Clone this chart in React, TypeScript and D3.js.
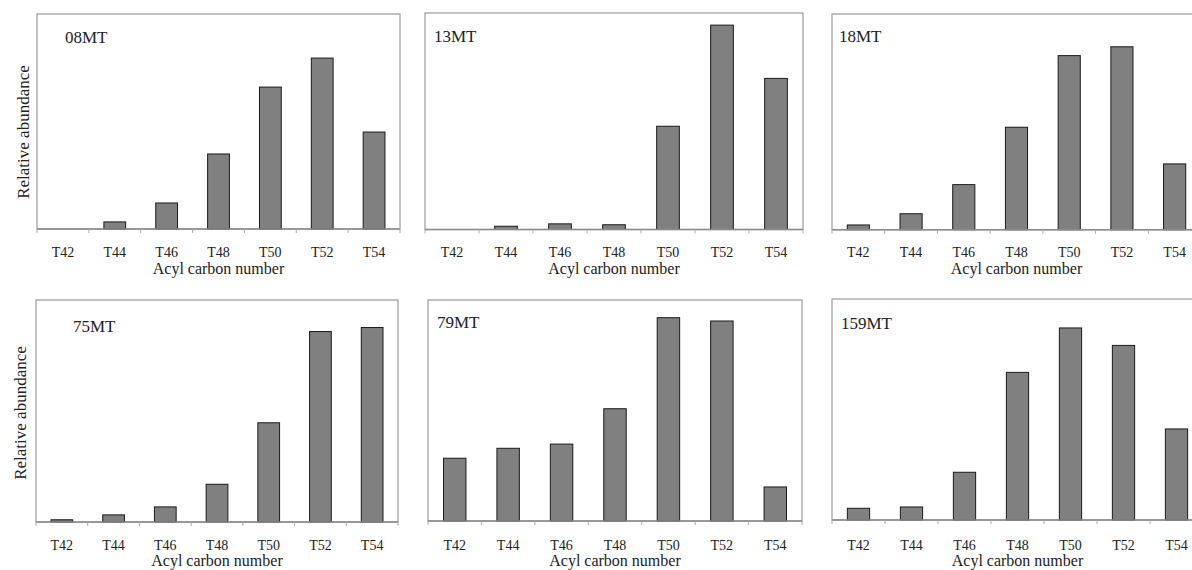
import React from "react";
import * as d3 from "d3";

const categories = ["T42", "T44", "T46", "T48", "T50", "T52", "T54"];
const sampleNames = ["08MT", "13MT", "18MT", "75MT", "79MT", "159MT"];
const values08MT = [0, 3.3, 12.1, 34.9, 66.0, 79.5, 45.1];
const values13MT = [0, 1.5, 2.6, 2.2, 47.7, 94.4, 69.8];
const values18MT = [2.2, 7.4, 20.9, 47.5, 80.7, 84.8, 30.5];
const values75MT = [1.0, 3.2, 6.8, 17.0, 44.7, 85.8, 87.6];
const values79MT = [28.4, 32.9, 34.8, 50.8, 92.0, 90.5, 15.4];
const values159MT = [5.3, 5.9, 21.6, 66.8, 86.9, 79.0, 41.2];
const xTitle = "Acyl carbon number";
const yTitle = "Relative abundance";

const seriesList = [values08MT, values13MT, values18MT, values75MT, values79MT, values159MT];

// layout of panels (pixel boxes)
const panels = [
  { left: 37, right: 400, top: 14, bottom: 229, tx: 65, ty: 43 },
  { left: 425, right: 803, top: 13, bottom: 229.5, tx: 434, ty: 42 },
  { left: 832, right: 1201, top: 14, bottom: 229.7, tx: 839, ty: 42 },
  { left: 36, right: 398, top: 300, bottom: 522, tx: 73, ty: 332 },
  { left: 428, right: 802, top: 300, bottom: 521, tx: 437, ty: 328 },
  { left: 832, right: 1203, top: 299, bottom: 520, tx: 841, ty: 329 },
];

const FONT = "'Liberation Serif', 'Times New Roman', serif";
const TEXT = "#222";

function Panel({ idx }: { idx: number }) {
  const p = panels[idx];
  const vals = seriesList[idx];
  const x = d3.scaleBand<string>().domain(categories).range([p.left, p.right]).paddingInner(0.58).paddingOuter(0.29);
  const y = d3.scaleLinear().domain([0, 100]).range([p.bottom, p.top]);
  const step = x.step();
  const row = idx < 3 ? 0 : 1;
  const tickBase = row === 0 ? 257 : 550;
  const titleBase = row === 0 ? 274 : 566;
  const boundaries = d3.range(categories.length + 1).map((i) => p.left + i * step);
  return (
    <g>
      <rect x={p.left} y={p.top} width={p.right - p.left} height={p.bottom - p.top} fill="none" stroke="#9a9a9a" strokeWidth={1.2} />
      {categories.map((c, i) => (
        <rect
          key={c}
          x={x(c)}
          y={y(vals[i])}
          width={x.bandwidth()}
          height={p.bottom - y(vals[i])}
          fill="#808080"
          stroke="#1a1a1a"
          strokeWidth={1}
        />
      ))}
      <line x1={p.left} x2={p.right} y1={p.bottom} y2={p.bottom} stroke="#8a8a8a" strokeWidth={1.5} />
      {boundaries.map((bx, i) => (
        <line key={i} x1={bx} x2={bx} y1={p.bottom} y2={p.bottom + 4} stroke="#aaa" strokeWidth={1} />
      ))}
      {categories.map((c) => (
        <text key={c} x={(x(c) as number) + x.bandwidth() / 2} y={tickBase} textAnchor="middle" fontSize={14} fontFamily={FONT} fill={TEXT}>
          {c}
        </text>
      ))}
      <text x={(p.left + p.left + step * 7) / 2} y={titleBase} textAnchor="middle" fontSize={16} fontFamily={FONT} fill={TEXT}>
        {xTitle}
      </text>
      <text x={p.tx} y={p.ty} fontSize={17} fontFamily={FONT} fill={TEXT}>
        {sampleNames[idx]}
      </text>
    </g>
  );
}

export default function App() {
  return (
    <svg width={1192} height={570} style={{ position: "absolute", left: 0, top: 0, background: "#fff" }}>
      <rect x={0} y={0} width={1192} height={570} fill="#fff" />
      {panels.map((_, i) => (
        <Panel key={i} idx={i} />
      ))}
      <text transform="translate(29,132) rotate(-90)" textAnchor="middle" fontSize={17} fontFamily={FONT} fill={TEXT}>
        {yTitle}
      </text>
      <text transform="translate(26,413) rotate(-90)" textAnchor="middle" fontSize={17} fontFamily={FONT} fill={TEXT}>
        {yTitle}
      </text>
    </svg>
  );
}
